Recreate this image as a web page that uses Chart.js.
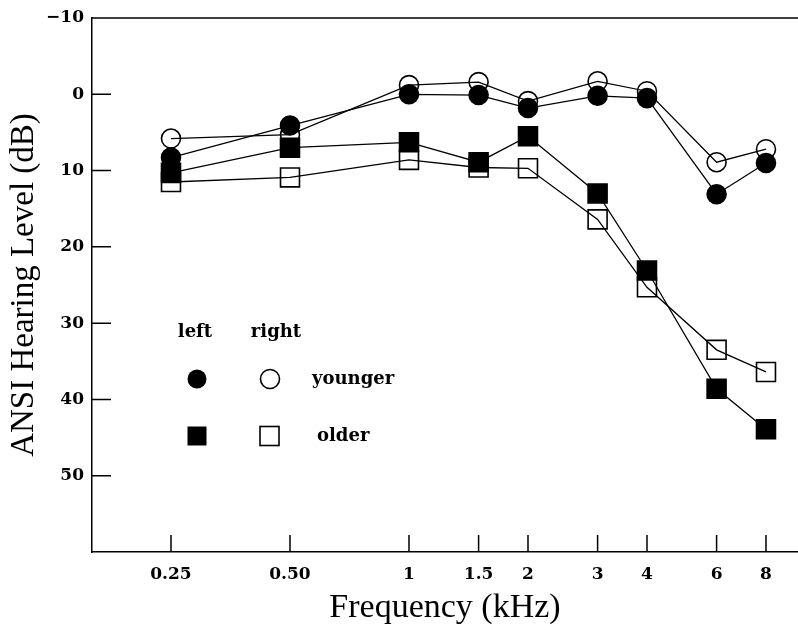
<!DOCTYPE html>
<html>
<head>
<meta charset="utf-8">
<script src="https://cdn.jsdelivr.net/npm/chart.js@4"></script>
<style>
  html, body { margin: 0; padding: 0; background: #fff; }
  #wrap { width: 798px; height: 630px; }
</style>
</head>
<body>
<div id="wrap"><canvas id="audiogram" width="798" height="630"></canvas></div>
<script>
// frequencies (kHz) and hearing levels (dB)
const freqs = [0.25, 0.5, 1, 1.5, 2, 3, 4, 6, 8];
const freqLabels = ['0.25', '0.50', '1', '1.5', '2', '3', '4', '6', '8'];
const youngerLeft = [8.3, 4.1, 0.0, 0.1, 1.8, 0.2, 0.5, 13.1, 9.0];
const youngerRight = [5.8, 5.3, -1.2, -1.6, 0.9, -1.7, -0.4, 8.9, 7.2];
const olderLeft = [10.3, 7.0, 6.3, 8.9, 5.5, 13.0, 23.1, 38.6, 43.9];
const olderRight = [11.5, 10.9, 8.6, 9.6, 9.7, 16.4, 25.3, 33.5, 36.4];
const levelTicks = [-10, 0, 10, 20, 30, 40, 50];

const tickFont = { family: 'DejaVu Serif', size: 17, weight: 'bold' };

function pts(vals) {
  return vals.map((v, i) => ({ x: freqs[i], y: v }));
}

function series(label, vals, style, filled, r) {
  return {
    label: label,
    data: pts(vals),
    showLine: true,
    borderColor: '#000',
    borderWidth: 1.3,
    pointStyle: style,
    pointRadius: r,
    pointHoverRadius: r,
    pointBorderWidth: 1.6,
    pointBorderColor: '#000',
    pointBackgroundColor: filled ? '#000' : 'rgba(0,0,0,0)'
  };
}

// ticks pointing into the plot, plus the top frame line
const frame = {
  id: 'frame',
  afterDraw(chart) {
    const { ctx, chartArea: a, scales } = chart;
    ctx.save();
    ctx.strokeStyle = '#000';
    ctx.lineWidth = 1.5;
    ctx.beginPath();
    ctx.moveTo(a.left, a.top);
    ctx.lineTo(a.right, a.top);
    scales.y.ticks.forEach(t => {
      const y = scales.y.getPixelForValue(t.value);
      ctx.moveTo(a.left, y);
      ctx.lineTo(a.left + 19, y);
    });
    scales.x.ticks.forEach(t => {
      const x = scales.x.getPixelForValue(t.value);
      ctx.moveTo(x, a.bottom);
      ctx.lineTo(x, a.bottom - 17);
    });
    ctx.stroke();

    // key inside the plot
    const lx = a.left;
    ctx.fillStyle = '#000';
    ctx.font = 'bold 18px "DejaVu Serif"';
    ctx.textBaseline = 'middle';
    ctx.textAlign = 'center';
    ctx.fillText('left', lx + 103, 332);
    ctx.fillText('right', lx + 184, 332);
    ctx.textAlign = 'left';
    ctx.fillText('younger', lx + 220, 379);
    ctx.fillText('older', lx + 225, 436);

    ctx.lineWidth = 1.6;
    ctx.beginPath();
    ctx.arc(lx + 105, 379, 9.5, 0, Math.PI * 2);
    ctx.fill();
    ctx.beginPath();
    ctx.arc(lx + 178, 379, 9.5, 0, Math.PI * 2);
    ctx.stroke();
    ctx.fillRect(lx + 95.5, 426.5, 19, 19);
    ctx.strokeRect(lx + 168, 426.5, 19, 19);
    ctx.restore();
  }
};

new Chart(document.getElementById('audiogram'), {
  type: 'scatter',
  data: {
    datasets: [
      series('younger left', youngerLeft, 'circle', true, 9.5),
      series('older left', olderLeft, 'rect', true, 13.4),
      series('younger right', youngerRight, 'circle', false, 9.5),
      series('older right', olderRight, 'rect', false, 13.4)
    ]
  },
  options: {
    responsive: false,
    animation: false,
    layout: { autoPadding: false, padding: { top: 18, right: 0, left: 0, bottom: 0 } },
    plugins: {
      legend: { display: false },
      tooltip: { enabled: false }
    },
    scales: {
      x: {
        type: 'logarithmic',
        min: 0.1578,
        max: 9.64,
        afterBuildTicks: s => { s.ticks = freqs.map(v => ({ value: v })); },
        afterFit: s => {
          s.height = 78;
          s.paddingLeft = 0;
          s.paddingRight = 0;
        },
        grid: { display: false, drawTicks: false },
        border: { display: true, color: '#000', width: 1.5 },
        ticks: {
          color: '#000',
          font: tickFont,
          padding: 12,
          autoSkip: false,
          maxRotation: 0,
          callback: (v) => freqLabels[freqs.indexOf(v)]
        },
        title: {
          display: true,
          text: 'Frequency (kHz)',
          color: '#000',
          font: { family: 'Liberation Serif', size: 34 },
          padding: { top: 0, bottom: 2 }
        }
      },
      y: {
        reverse: true,
        min: -10,
        max: 60,
        afterBuildTicks: s => { s.ticks = levelTicks.map(v => ({ value: v })); },
        afterFit: s => {
          s.width = 92;
          s.paddingTop = 0;
          s.paddingBottom = 0;
        },
        grid: { display: false, drawTicks: false },
        border: { display: true, color: '#000', width: 1.5 },
        ticks: {
          color: '#000',
          font: tickFont,
          padding: 8,
          callback: v => (v < 0 ? '\u2212' + Math.abs(v) : String(v))
        },
        title: {
          display: true,
          text: 'ANSI Hearing Level (dB)',
          color: '#000',
          font: { family: 'Liberation Serif', size: 33 },
          padding: { top: 5, bottom: 0 }
        }
      }
    }
  },
  plugins: [frame]
});
</script>
</body>
</html>
